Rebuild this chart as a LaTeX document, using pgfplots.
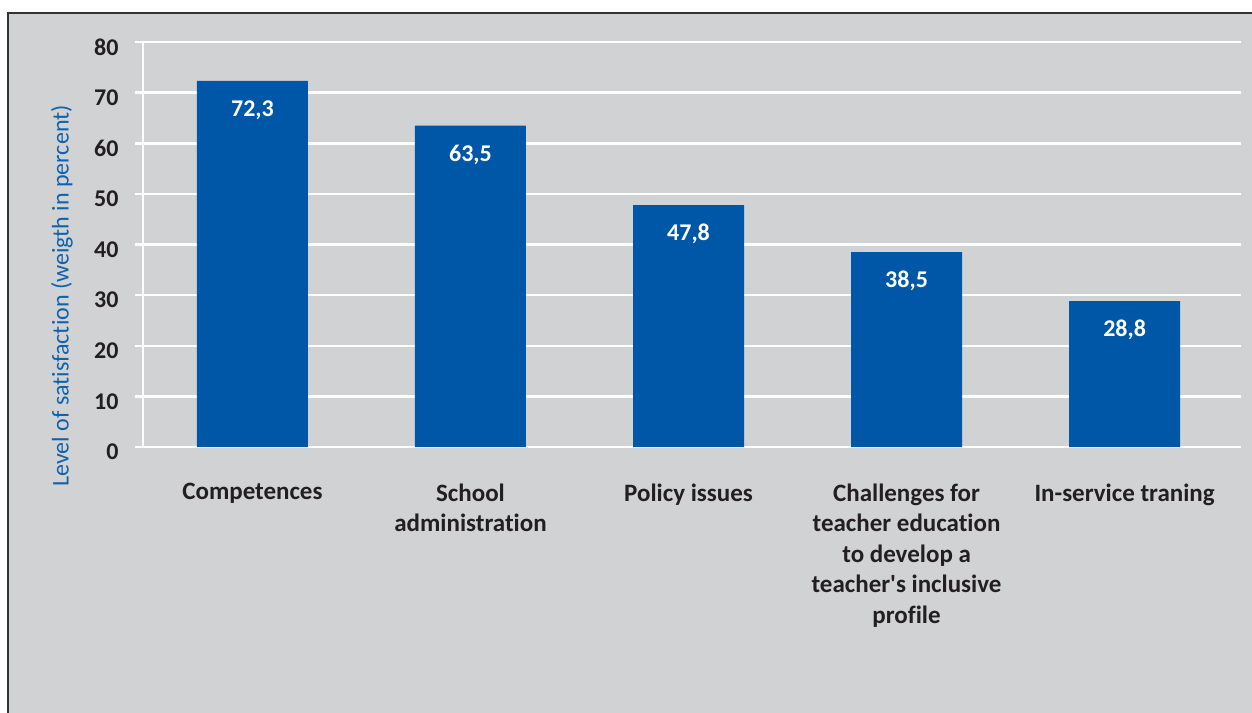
\documentclass[border=0pt]{standalone}
\usepackage{pgfplots}
\pgfplotsset{compat=1.18}
\usepackage{pgfplotstable}
\usepackage{fontspec}
\setmainfont{Carlito}[Ligatures={TeXOff,NoCommon}]
\definecolor{bg}{HTML}{D1D2D4}
\definecolor{barblue}{HTML}{0057A7}
\definecolor{lblblue}{HTML}{0F62AC}
\definecolor{txt}{HTML}{231F20}
\pgfplotstableread{
x y lab
0 72.3 72,3
1 63.5 63,5
2 47.8 47,8
3 38.5 38,5
4 28.8 28,8
}\data
\begin{document}
\begin{tikzpicture}
\useasboundingbox (0,0) rectangle (1252bp,-713bp);
\fill[white] (0,0) rectangle (1252bp,-713bp);
\fill[bg] (8bp,-13bp) rectangle (1252bp,-713bp);
\draw[line width=2.7bp, color=black!80] (8bp,-713bp) -- (8bp,-13bp) -- (1252bp,-13bp);
\begin{axis}[
  at={(143bp,-447bp)}, anchor=south west,
  scale only axis, width=1098bp, height=405bp,
  xmin=-0.502, xmax=4.534, ymin=0, ymax=80,
  ytick={0,10,...,80},
  xtick={0,1,2,3,4},
  xticklabels={Competences, {School\\administration}, Policy issues, {Challenges for\\teacher education\\to develop a\\teacher's inclusive\\profile}, In-service traning},
  axis x line=bottom, axis y line=left,
  axis line style={-, white, line width=2.5bp},
  ymajorgrids, grid style={white, line width=2.5bp},
  tick align=outside, major tick length=8bp,
  ytick style={white, line width=2.5bp},
  xtick style={draw=none},
  /pgf/number format/assume math mode=true,
  yticklabel style={font=\fontsize{24bp}{28bp}\selectfont\bfseries, text=txt, yshift=-5bp, xshift=-13bp},
  xticklabel style={font=\fontsize{25bp}{30.5bp}\selectfont\bfseries, text=txt, align=center, anchor=north, yshift=-25bp},
  ylabel={Level of satisfaction (weigth in percent)},
  ylabel style={at={(axis description cs:0,0.373)}, anchor=center, yshift=81bp, text=lblblue, font=\fontsize{24bp}{28bp}\selectfont},
  ybar, bar width=111bp,
  nodes near coords, point meta=explicit symbolic,
  every node near coord/.append style={text=white, font=\fontsize{24bp}{28bp}\selectfont\bfseries, anchor=center, yshift=-29bp},
]
\addplot[fill=barblue, draw=none] table[x=x, y=y, meta=lab] {\data};
\end{axis}
\end{tikzpicture}
\end{document}
